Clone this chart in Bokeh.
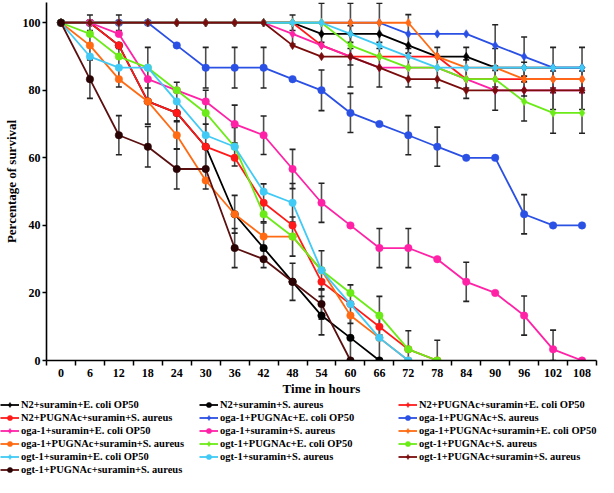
import numpy as np
from bokeh.plotting import figure
from bokeh.layouts import column
from bokeh.models import (Range1d, FixedTicker, Legend, LegendItem,
                          ColumnDataSource, Whisker, TeeHead)
from bokeh.embed import file_html
from bokeh.resources import INLINE

# ---------------- data ----------------
hours = [0, 6, 12, 18, 24, 30, 36, 42, 48, 54, 60, 66, 72, 78, 84, 90, 96, 102, 108]
y_ticks = [0, 20, 40, 60, 80, 100]
N = None

n2_sur_ecoli = [100, 100, 100, 100, 100, 100, 100, 100, 100, 96.7, 96.7, 96.7, 93.3, 90, 90, 86.7, 86.7, 86.7, 86.7]
n2_sur_saur = [100, 100, 93.3, 76.7, 73.3, 63.3, 43.3, 33.3, 23.3, 13.3, 6.7, 0, N, N, N, N, N, N, N]
n2_pug_sur_ecoli = [100, 100, 100, 100, 100, 100, 100, 100, 100, 93.3, 90, 90, 90, 90, 83.3, 83.3, 83.3, 83.3, 83.3]
n2_pug_sur_saur = [100, 100, 93.3, 76.7, 73.3, 63.3, 60, 46.7, 40, 23.3, 16.7, 10, 3.3, 0, N, N, N, N, N]
oga_pug_ecoli = [100, 100, 100, 100, 100, 100, 100, 100, 100, 100, 100, 100, 96.7, 96.7, 96.7, 93.3, 90, 86.7, 86.7]
oga_pug_saur = [100, 100, 100, 100, 93.3, 86.7, 86.7, 86.7, 83.3, 80, 73.3, 70, 66.7, 63.3, 60, 60, 43.3, 40, 40]
oga_sur_ecoli = [100, 100, 100, 100, 100, 100, 100, 100, 96.7, 93.3, 90, 86.7, 86.7, 86.7, 83.3, 80, 80, 80, 80]
oga_sur_saur = [100, 100, 96.7, 83.3, 80, 76.7, 70, 66.7, 56.7, 46.7, 40, 33.3, 33.3, 30, 23.3, 20, 13.3, 3.3, 0]
oga_pug_sur_ecoli = [100, 100, 100, 100, 100, 100, 100, 100, 100, 100, 100, 100, 100, 90, 86.7, 86.7, 83.3, 83.3, 83.3]
oga_pug_sur_saur = [100, 93.3, 83.3, 76.7, 66.7, 53.3, 43.3, 36.7, 36.7, 26.7, 13.3, 6.7, 0, N, N, N, N, N, N]
ogt_pug_ecoli = [100, 100, 100, 100, 100, 100, 100, 100, 100, 100, 93.3, 90, 86.7, 86.7, 83.3, 83.3, 76.7, 73.3, 73.3]
ogt_pug_saur = [100, 96.7, 90, 86.7, 80, 73.3, 63.3, 43.3, 36.7, 26.7, 20, 13.3, 3.3, 0, N, N, N, N, N]
ogt_sur_ecoli = [100, 100, 100, 100, 100, 100, 100, 100, 100, 100, 96.7, 93.3, 90, 86.7, 86.7, 86.7, 86.7, 86.7, 86.7]
ogt_sur_saur = [100, 90, 86.7, 86.7, 76.7, 66.7, 63.3, 50, 46.7, 26.7, 16.7, 6.7, 0, N, N, N, N, N, N]
ogt_pug_sur_saur_a = [100, 100, 100, 100, 100, 100, 100, 100, 93.3, 90, 90, 86.7, 83.3, 83.3, 80, 80, 80, 80, 80]
ogt_pug_sur_saur_b = [100, 83.3, 66.7, 63.3, 56.7, 56.7, 33.3, 30, 23.3, 16.7, 0, N, N, N, N, N, N, N, N]

# error bars: time, centre value, half-length
err_hours = [6, 6, 6, 12, 12, 12, 18, 18, 18, 24, 24, 24, 30, 30, 30, 30,
             36, 36, 36, 36, 36, 42, 42, 42, 42, 42,
             48, 48, 48, 48, 48, 48, 54, 54, 54, 54, 54, 54,
             60, 60, 60, 60, 60, 60, 66, 66, 66, 66, 66,
             72, 72, 72, 72, 72, 78, 78, 78, 84, 84, 84, 90, 90, 90,
             96, 96, 96, 96, 96, 102, 102, 102, 102, 108, 108, 108]
err_centre = [100, 90, 83.3, 100, 86.7, 66.7, 86.7, 76.7, 63.3, 76.7, 66.7, 56.7, 86.7, 73.3, 63.3, 56.7,
              86.7, 70, 63.3, 43.3, 33.3, 86.7, 66.7, 46.7, 36.7, 30,
              100, 96.7, 56.7, 46.7, 36.7, 23.3, 100, 80, 46.7, 26.7, 16.7, 13.3,
              100, 93.3, 86.7, 73.3, 16.7, 6.7, 100, 86.7, 33.3, 13.3, 6.7,
              96.7, 86.7, 66.7, 33.3, 3.3, 86.7, 63.3, 0, 86.7, 83.3, 23.3, 93.3, 86.7, 80,
              90, 83.3, 76.7, 43.3, 13.3, 86.7, 80, 73.3, 3.3, 86.7, 80, 73.3]
err_size = [2.3, 6.7, 5.7, 2.3, 5.7, 5.8, 6, 6.7, 6, 5.7, 4, 5.9, 6, 6.7, 6.7, 5.9,
            6, 5.6, 5.7, 5.6, 5.8, 6, 5.7, 5.6, 4, 2.5,
            2.3, 3, 5.8, 5.7, 5.8, 5.5, 5.8, 6, 5.8, 5.8, 4.5, 5.7,
            5.8, 5.8, 5.7, 5.8, 5.7, 6.7, 5.8, 5.7, 5.8, 5.7, 6.7,
            5.7, 5.7, 5.8, 5.8, 5.5, 6, 5.8, 6, 6, 5.7, 5.8, 6.1, 5.7, 5.9,
            5.8, 5, 5.8, 5.8, 5.8, 6, 5.7, 6, 5.7, 6, 5.7, 6]

labels = [
    "N2+suramin+E. coli OP50", "N2+suramin+S. aureus", "N2+PUGNAc+suramin+E. coli OP50",
    "N2+PUGNAc+suramin+S. aureus", "oga-1+PUGNAc+E. coli OP50", "oga-1+PUGNAc+S. aureus",
    "oga-1+suramin+E. coli OP50", "oga-1+suramin+S. aureus", "oga-1+PUGNAc+suramin+E. coli OP50",
    "oga-1+PUGNAc+suramin+S. aureus", "ogt-1+PUGNAc+E. coli OP50", "ogt-1+PUGNAc+S. aureus",
    "ogt-1+suramin+E. coli OP50", "ogt-1+suramin+S. aureus", "ogt-1+PUGNAc+suramin+S. aureus",
    "ogt-1+PUGNAc+suramin+S. aureus",
]
values = [n2_sur_ecoli, n2_sur_saur, n2_pug_sur_ecoli, n2_pug_sur_saur,
          oga_pug_ecoli, oga_pug_saur, oga_sur_ecoli, oga_sur_saur,
          oga_pug_sur_ecoli, oga_pug_sur_saur, ogt_pug_ecoli, ogt_pug_saur,
          ogt_sur_ecoli, ogt_sur_saur, ogt_pug_sur_saur_a, ogt_pug_sur_saur_b]

line_colors = ["#000000", "#000000", "#FF1A1A", "#FF1A1A", "#2B50E4", "#2B50E4",
               "#FF22A6", "#FF22A6", "#FF6A12", "#FF6A12", "#6BEB17", "#6BEB17",
               "#40CAF5", "#40CAF5", "#7A0C0C", "#5A1010"]
marker_colors = line_colors[:-1] + ["#2A0404"]
markers = ["diamond", "circle"] * 8

# ---------------- main figure ----------------
FONT = "Liberation Serif"
p = figure(width=598, height=398, output_backend="svg", toolbar_location=None,
           x_range=Range1d(-3, 111), y_range=Range1d(0, 106),
           min_border_left=36, min_border_right=2, min_border_top=2,
           min_border_bottom=0)
p.grid.visible = False
p.outline_line_color = None
p.frame_align = False

err_c = np.array(err_centre, dtype=float)
err_e = np.array(err_size, dtype=float)
esrc = ColumnDataSource(dict(x=err_hours, upper=err_c + err_e,
                             lower=np.clip(err_c - err_e, 0, None)))
wh = Whisker(source=esrc, base="x", upper="upper", lower="lower",
             line_color="#4d4d4d", line_width=1.6, level="underlay",
             upper_head=TeeHead(size=6, line_color="#222222", line_width=1.6),
             lower_head=TeeHead(size=6, line_color="#222222", line_width=1.6))
p.add_layout(wh)

# key figure: same sources, but its ranges keep the marks out of view
lf = figure(width=598, height=79, output_backend="svg", toolbar_location=None,
            x_range=Range1d(1000, 1001), y_range=Range1d(1000, 1001),
            x_axis_type=None, y_axis_type=None, min_border=0)
lf.grid.visible = False
lf.outline_line_color = None
lf.frame_align = False

items = []
for lab, vals, lc, mc, mk in zip(labels, values, line_colors, marker_colors, markers):
    yv = np.array([np.nan if v is None else v for v in vals], dtype=float)
    src = ColumnDataSource(dict(x=hours, y=yv))
    size = 7.5 if mk == "circle" else 8.5
    p.line("x", "y", source=src, line_color=lc, line_width=1.8)
    p.scatter("x", "y", source=src, marker=mk, size=size,
              fill_color=mc, line_color=mc, line_width=0.5)
    kl = lf.line("x", "y", source=src, line_color=lc, line_width=1.8)
    ks = lf.scatter("x", "y", source=src, marker=mk, size=size - 1,
                    fill_color=mc, line_color=mc, line_width=0.5)
    items.append(LegendItem(label=lab, renderers=[kl, ks]))

# axes
boundaries = [h - 3 for h in hours] + [hours[-1] + 3]
p.xaxis.ticker = FixedTicker(ticks=hours, minor_ticks=boundaries)
p.xaxis.major_tick_out = 0
p.xaxis.major_tick_in = 0
p.xaxis.minor_tick_out = 5
p.xaxis.minor_tick_in = 0
p.xaxis.minor_tick_line_color = "black"
p.xaxis.minor_tick_line_width = 1.5
p.yaxis.ticker = FixedTicker(ticks=y_ticks, minor_ticks=[])
p.yaxis.major_tick_out = 4
p.yaxis.major_tick_in = 0
for ax in (p.xaxis[0], p.yaxis[0]):
    ax.axis_line_color = "black"
    ax.axis_line_width = 1.6
    ax.major_tick_line_color = "black"
    ax.major_tick_line_width = 1.5
    ax.major_label_text_font = FONT
    ax.major_label_text_font_style = "bold"
    ax.major_label_text_font_size = "12px"
    ax.major_label_text_color = "black"
    ax.axis_label_text_font = FONT
    ax.axis_label_text_font_style = "bold"
    ax.axis_label_text_font_size = "13px"
    ax.axis_label_text_color = "black"
p.xaxis.axis_label = "Time in hours"
p.yaxis.axis_label = "Percentage of survival"
p.xaxis.major_label_standoff = 3
p.xaxis.axis_label_standoff = 1
p.yaxis.major_label_standoff = 2
p.yaxis.axis_label_standoff = 1

legend = Legend(items=items, ncols=3, orientation="horizontal",
                location="top_left",
                border_line_color=None, background_fill_alpha=0,
                padding=1, margin=0, spacing=0,
                glyph_width=19, glyph_height=13, label_height=13,
                label_standoff=2, label_width=178,
                label_text_font=FONT, label_text_font_style="bold",
                label_text_font_size="10.5px", label_text_color="black")
lf.add_layout(legend, "center")

layout = column(p, lf, spacing=0)
open("out.html", "w").write(file_html(layout, INLINE))
